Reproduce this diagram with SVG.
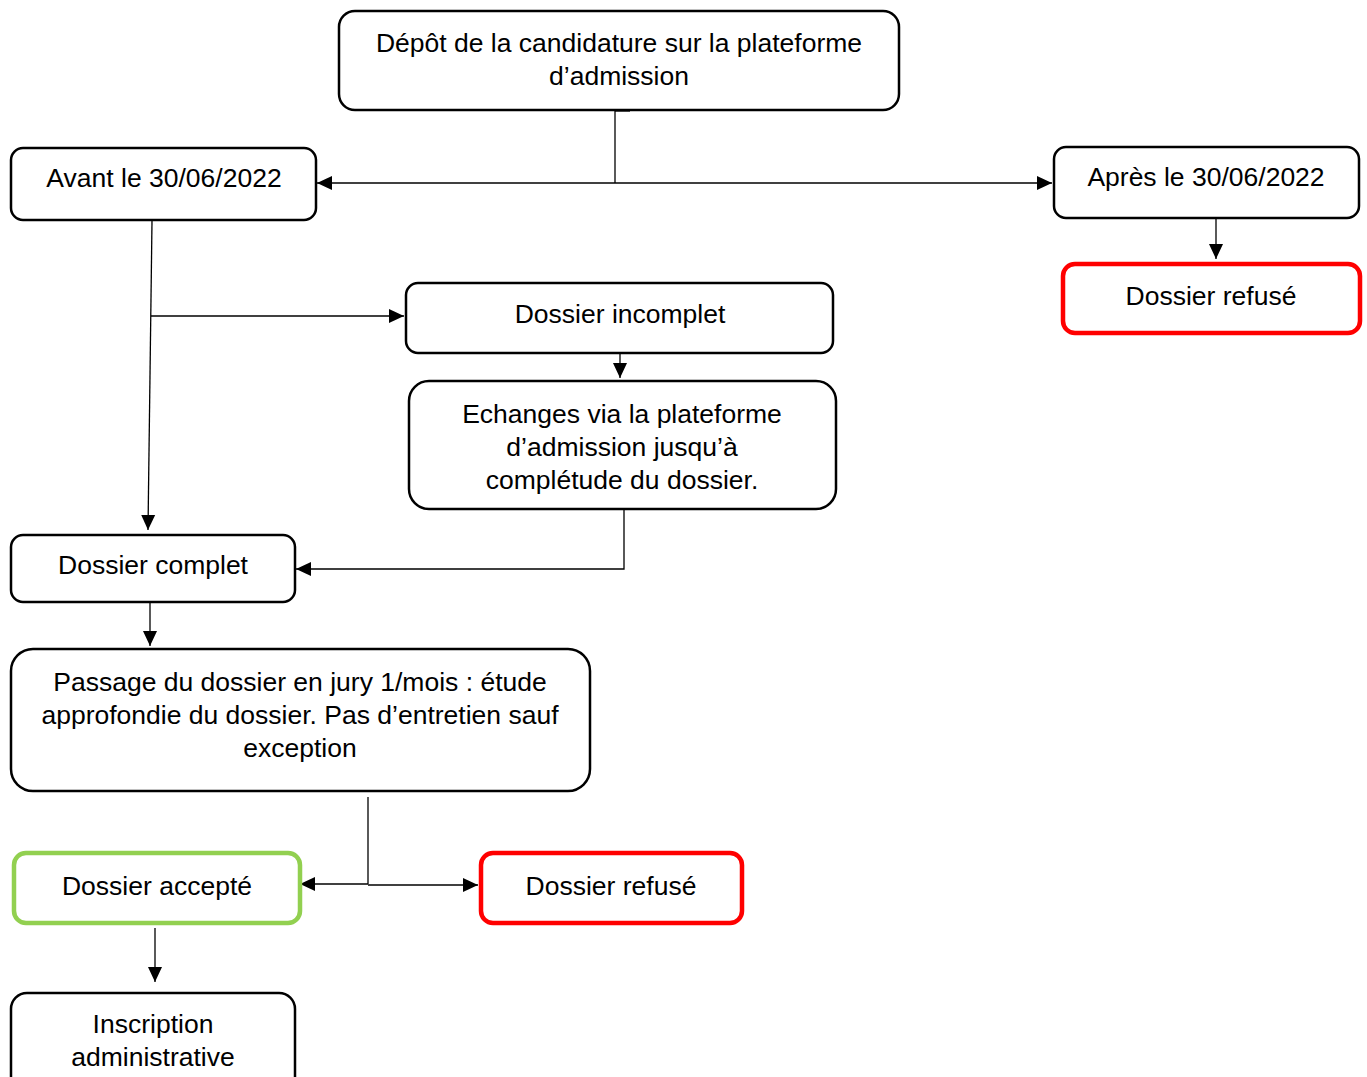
<svg xmlns="http://www.w3.org/2000/svg" width="1367" height="1077" viewBox="0 0 1367 1077">
<defs>
<marker id="arr" markerWidth="16" markerHeight="16" refX="15" refY="8" orient="auto" markerUnits="userSpaceOnUse">
<path d="M0,1 L15,8 L0,15 Z" fill="#000"/>
</marker>
</defs>
<style>
.box{fill:#fff;stroke:#000;stroke-width:2.5}
.red{fill:#fff;stroke:#ff0000;stroke-width:4.5}
.green{fill:#fff;stroke:#92d050;stroke-width:4.5}
text{font-family:"Liberation Sans",Arial,sans-serif;font-size:26.5px;fill:#000;text-anchor:middle}
.c{fill:none;stroke:#000;stroke-width:1.3}
</style>
<rect width="1367" height="1077" fill="#fff"/>
<g id="connectors">
<path class="c" d="M615,111 H630"/>
<path class="c" d="M615,110 V183"/>
<path class="c" d="M615,183 H317" marker-end="url(#arr)"/>
<path class="c" d="M615,183 H1052" marker-end="url(#arr)"/>
<path class="c" d="M1216,219 V259" marker-end="url(#arr)"/>
<path class="c" d="M152,221 L148,530" marker-end="url(#arr)"/>
<path class="c" d="M151,316 H404" marker-end="url(#arr)"/>
<path class="c" d="M620,354 V378" marker-end="url(#arr)"/>
<path class="c" d="M624,507 V569 H296" marker-end="url(#arr)"/>
<path class="c" d="M150,603 V646" marker-end="url(#arr)"/>
<path class="c" d="M368,797 V884"/>
<path class="c" d="M368,884 H300" marker-end="url(#arr)"/>
<path class="c" d="M368,885 H478" marker-end="url(#arr)"/>
<path class="c" d="M155,928 V982" marker-end="url(#arr)"/>
</g>
<g id="depot">
<rect class="box" x="339" y="11" width="560" height="99" rx="16"/>
<text x="619" y="52">Dépôt de la candidature sur la plateforme</text>
<text x="619" y="85">d’admission</text>
</g>
<g id="avant">
<rect class="box" x="11" y="148" width="305" height="72" rx="12"/>
<text x="164" y="187">Avant le 30/06/2022</text>
</g>
<g id="apres">
<rect class="box" x="1054" y="147" width="305" height="71" rx="12"/>
<text x="1206" y="186">Après le 30/06/2022</text>
</g>
<g id="refuse1">
<rect class="red" x="1063" y="264" width="297" height="69" rx="12"/>
<text x="1211" y="305">Dossier refusé</text>
</g>
<g id="incomplet">
<rect class="box" x="406" y="283" width="427" height="70" rx="12"/>
<text x="620" y="323">Dossier incomplet</text>
</g>
<g id="echanges">
<rect class="box" x="409" y="381" width="427" height="128" rx="20"/>
<text x="622" y="423">Echanges via la plateforme</text>
<text x="622" y="456">d’admission jusqu’à</text>
<text x="622" y="489">complétude du dossier.</text>
</g>
<g id="complet">
<rect class="box" x="11" y="535" width="284" height="67" rx="12"/>
<text x="153" y="574">Dossier complet</text>
</g>
<g id="passage">
<rect class="box" x="11" y="649" width="579" height="142" rx="22"/>
<text x="300" y="691">Passage du dossier en jury 1/mois : étude</text>
<text x="300" y="724">approfondie du dossier. Pas d’entretien sauf</text>
<text x="300" y="757">exception</text>
</g>
<g id="accepte">
<rect class="green" x="14" y="853" width="286" height="70" rx="12"/>
<text x="157" y="895">Dossier accepté</text>
</g>
<g id="refuse2">
<rect class="red" x="481" y="853" width="261" height="70" rx="12"/>
<text x="611" y="895">Dossier refusé</text>
</g>
<g id="inscription">
<rect class="box" x="11" y="993" width="284" height="100" rx="16"/>
<text x="153" y="1033">Inscription</text>
<text x="153" y="1066">administrative</text>
</g>
</svg>
